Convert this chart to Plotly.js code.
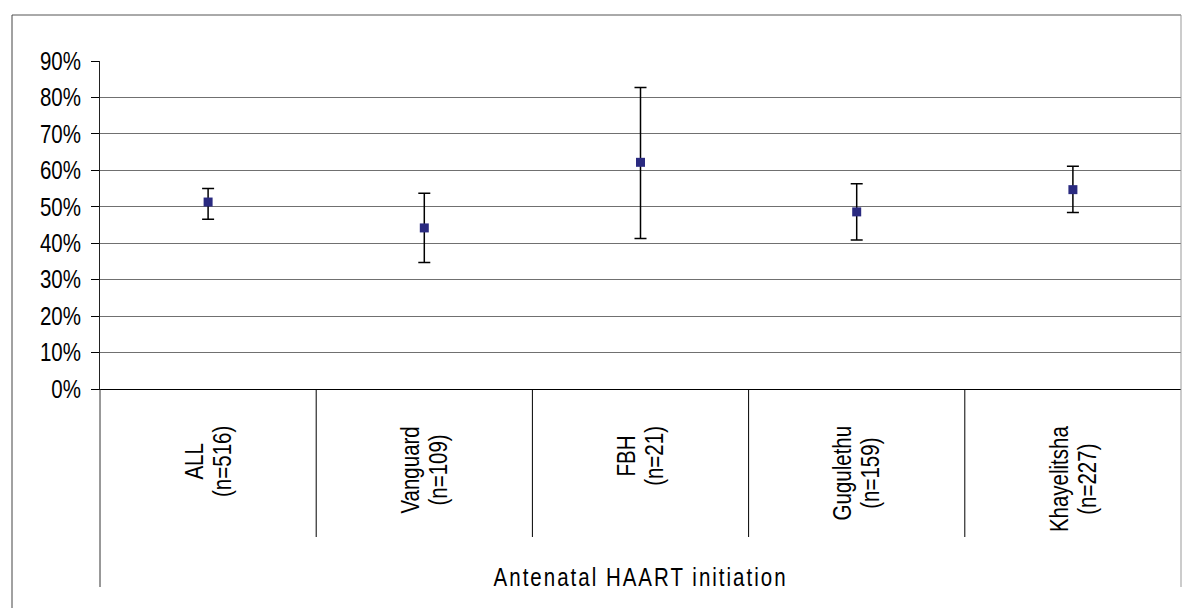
<!DOCTYPE html>
<html>
<head>
<meta charset="utf-8">
<script src="https://cdn.plot.ly/plotly-3.0.1.min.js"></script>
<style>
html,body{margin:0;padding:0;background:#fff;}
#chart{width:1194px;height:608px;}
</style>
</head>
<body>
<div id="chart"></div>
<script>
// ---- data ----
var categories = ["ALL", "Vanguard", "FBH", "Gugulethu", "Khayelitsha"];
var sampleSizes = ["n=516", "n=109", "n=21", "n=159", "n=227"];
var pointValues = [51.3, 44.2, 62.2, 48.6, 54.7];
var upperCI = [55.0, 53.7, 82.7, 56.3, 61.1];
var lowerCI = [46.6, 34.7, 41.3, 40.9, 48.4];
var yTickValues = [0, 10, 20, 30, 40, 50, 60, 70, 80, 90];
var yTickLabels = ["0%", "10%", "20%", "30%", "40%", "50%", "60%", "70%", "80%", "90%"];
var axisTitle = "Antenatal HAART initiation";

var FONT = '"Liberation Sans", Arial, sans-serif';
var FS = 25;          // font size
var SX = 0.82;        // horizontal condensing (Arial Narrow look)

var xIdx = categories.map(function (c, i) { return i; });
var errPlus = pointValues.map(function (v, i) { return upperCI[i] - v; });
var errMinus = pointValues.map(function (v, i) { return v - lowerCI[i]; });

var trace = {
  x: xIdx,
  y: pointValues,
  type: 'scatter',
  mode: 'markers',
  marker: { symbol: 'square', size: 9, color: '#2a2a80', line: { width: 0 } },
  error_y: {
    type: 'data', symmetric: false,
    array: errPlus, arrayminus: errMinus,
    color: '#000', thickness: 1.5, width: 6
  },
  hoverinfo: 'x+y'
};

var L = 100, R = 1181, T = 61, B = 389;
function py(y) { return (B - y) / (B - T); }
function px(x) { return (x - L) / (R - L); }

var shapes = [];
for (var i = 1; i < categories.length; i++) {
  shapes.push({ type: 'line', xref: 'x', yref: 'paper', x0: i - 0.5, x1: i - 0.5,
    y0: 0, y1: py(537), line: { color: '#000', width: 1 } });
}
shapes.push({ type: 'line', xref: 'paper', yref: 'paper', x0: 0, x1: 0,
  y0: 0, y1: py(587), line: { color: '#333', width: 1 } });
shapes.push({ type: 'line', xref: 'paper', yref: 'paper', x0: px(12), x1: px(1181),
  y0: py(15), y1: py(15), line: { color: '#555', width: 1 } });
shapes.push({ type: 'line', xref: 'paper', yref: 'paper', x0: px(12), x1: px(12),
  y0: py(15), y1: py(610), line: { color: '#444', width: 1 } });
shapes.push({ type: 'line', xref: 'paper', yref: 'paper', x0: 1, x1: 1,
  y0: py(15), y1: py(587), line: { color: '#999', width: 1 } });

var annotations = categories.map(function (c, i) {
  return {
    x: i, xref: 'x', y: py(424), yref: 'paper',
    text: c + '<br>(' + sampleSizes[i] + ')',
    textangle: -90, showarrow: false,
    xanchor: 'center', yanchor: 'top', align: 'center',
    font: { family: FONT, size: FS, color: '#000' }
  };
});
annotations.push({
  x: 0.5, xref: 'paper', y: py(577), yref: 'paper',
  text: axisTitle, showarrow: false, xanchor: 'center', yanchor: 'middle',
  font: { family: FONT, size: FS, color: '#000' }
});

var layout = {
  width: 1194, height: 608,
  margin: { l: L, r: 1194 - R, t: T, b: 608 - B, pad: 0 },
  paper_bgcolor: '#fff', plot_bgcolor: '#fff',
  showlegend: false,
  xaxis: {
    range: [-0.5, categories.length - 0.5],
    showgrid: false, zeroline: false, showticklabels: false, ticks: '',
    showline: true, linecolor: '#000', linewidth: 1, fixedrange: true
  },
  yaxis: {
    range: [0, 90],
    tickvals: yTickValues, ticktext: yTickLabels,
    ticks: 'outside', ticklen: 8, tickcolor: '#000', tickwidth: 1,
    ticklabelstandoff: 5,
    showgrid: true, gridcolor: '#707070', gridwidth: 1,
    zeroline: false,
    showline: true, linecolor: '#222', linewidth: 1,
    tickfont: { family: FONT, size: FS, color: '#000' },
    fixedrange: true
  },
  shapes: shapes,
  annotations: annotations
};

function addTransform(el, extra) {
  var t = el.getAttribute('transform') || '';
  el.setAttribute('transform', (t + ' ' + extra).trim());
}

Plotly.newPlot('chart', [trace], layout, { displayModeBar: false, staticPlot: true }).then(function (gd) {
  // condensed y tick labels (anchored at their right end)
  gd.querySelectorAll('.ytick text').forEach(function (t) {
    var bb = t.getBBox();
    var ax = bb.x + bb.width;
    addTransform(t, 'translate(' + ax + ',0) scale(' + SX + ',1) translate(' + (-ax) + ',0)');
  });
  gd.querySelectorAll('.annotation-text').forEach(function (t) {
    if (t.textContent === axisTitle) {
      var b0 = t.getBBox();
      var c0 = b0.x + b0.width / 2;
      t.style.letterSpacing = (2 / SX).toFixed(2) + 'px';
      var b1 = t.getBBox();
      var c1 = b1.x + b1.width / 2;
      addTransform(t, 'translate(' + c0 + ',0) scale(' + SX + ',1) translate(' + (-c1) + ',0)');
    } else {
      // rotated category labels: tighten line spacing, condense, keep top end fixed
      var lines = t.querySelectorAll('tspan.line');
      var reduce = 0;
      lines.forEach(function (ln, k) {
        var dy = ln.getAttribute('dy');
        if (k > 0 && dy && /em$/.test(dy)) {
          var v = parseFloat(dy);
          var nv = v * (1.12 / 1.3);
          ln.setAttribute('dy', nv + 'em');
          reduce += (v - nv) * FS;
        }
      });
      var bb = t.getBBox();
      var ex = bb.x + bb.width;
      addTransform(t, 'translate(0,' + (reduce / 2) + ') translate(' + ex + ',0) scale(' + SX + ',1) translate(' + (-ex) + ',0)');
    }
  });
});
</script>
</body>
</html>
